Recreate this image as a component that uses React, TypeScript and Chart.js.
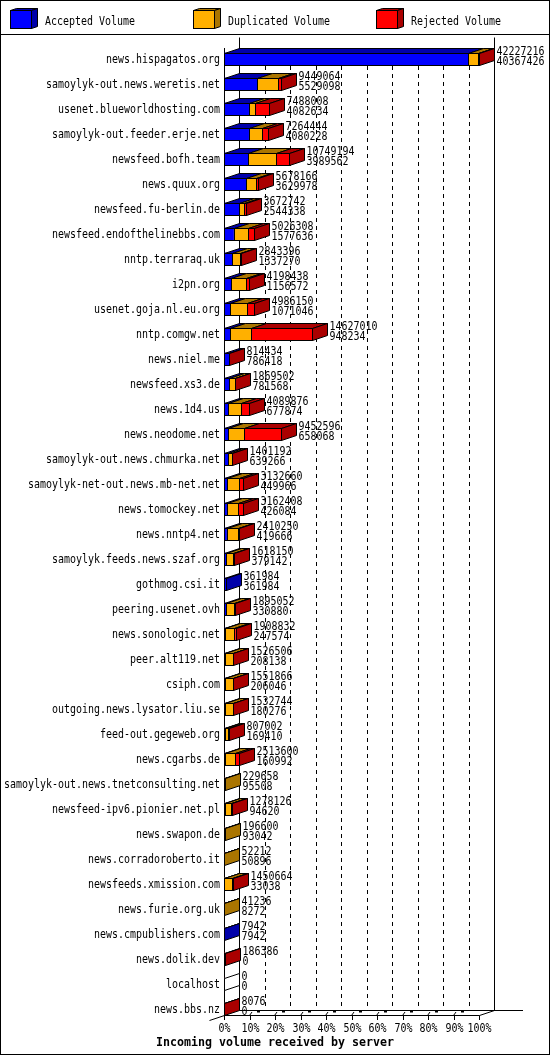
import { useEffect, useRef } from 'react';
import { Chart, registerables } from 'chart.js';

Chart.register(...registerables);

const servers = [
  'news.hispagatos.org',
  'samoylyk-out.news.weretis.net',
  'usenet.blueworldhosting.com',
  'samoylyk-out.feeder.erje.net',
  'newsfeed.bofh.team',
  'news.quux.org',
  'newsfeed.fu-berlin.de',
  'newsfeed.endofthelinebbs.com',
  'nntp.terraraq.uk',
  'i2pn.org',
  'usenet.goja.nl.eu.org',
  'nntp.comgw.net',
  'news.niel.me',
  'newsfeed.xs3.de',
  'news.1d4.us',
  'news.neodome.net',
  'samoylyk-out.news.chmurka.net',
  'samoylyk-net-out.news.mb-net.net',
  'news.tomockey.net',
  'news.nntp4.net',
  'samoylyk.feeds.news.szaf.org',
  'gothmog.csi.it',
  'peering.usenet.ovh',
  'news.sonologic.net',
  'peer.alt119.net',
  'csiph.com',
  'outgoing.news.lysator.liu.se',
  'feed-out.gegeweb.org',
  'news.cgarbs.de',
  'samoylyk-out.news.tnetconsulting.net',
  'newsfeed-ipv6.pionier.net.pl',
  'news.swapon.de',
  'news.corradoroberto.it',
  'newsfeeds.xmission.com',
  'news.furie.org.uk',
  'news.cmpublishers.com',
  'news.dolik.dev',
  'localhost',
  'news.bbs.nz',
];

// printed next to each bar: total (top line) and accepted (bottom line)
const totalVolume = [
  42227216, 9449064, 7488008, 7264444, 10749194, 5678166, 3672742, 5026308, 2843396, 4198438,
  4986150, 14627010, 814434, 1869502, 4089876, 9452596, 1401192, 3132660, 3162408, 2410250,
  1618150, 361984, 1895052, 1908832, 1526506, 1551866, 1532744, 807002, 2513600, 229658,
  1278126, 196600, 52212, 1450664, 41236, 7942, 186386, 0, 8076,
];

const acceptedVolume = [
  40367426, 5529098, 4082634, 4080228, 3989562, 3629978, 2544338, 1577636, 1337270, 1156572,
  1071046, 948234, 786418, 781568, 677874, 658068, 639266, 449966, 426084, 419666,
  379142, 361984, 330880, 247574, 208138, 206046, 180276, 169410, 160992, 95508,
  94620, 93042, 50896, 33038, 8272, 7942, 0, 0, 0,
];

// estimated from the bar segments
const duplicatedVolume = [
  1680000, 3470000, 990000, 2250000, 4580000, 1620000, 840000, 2440000, 1330000, 2430000,
  2780000, 3540000, 0, 1010000, 2160000, 2650000, 640000, 2040000, 1900000, 1900000,
  1070000, 0, 1350000, 1375000, 1290000, 1300000, 1310000, 520000, 1690000, 134150,
  1070000, 103558, 1316, 1240000, 32964, 0, 0, 0, 0,
];

const rejectedVolume = [
  179790, 449966, 2415374, 934216, 2179632, 428188, 288404, 1008672, 176126, 611866,
  1135104, 10138776, 28016, 77934, 1252002, 6144528, 121926, 642694, 836324, 90584,
  169008, 0, 214172, 286258, 28368, 45820, 42468, 117592, 662608, 0,
  113506, 0, 0, 177626, 0, 0, 186386, 0, 8076,
];

const tickLabels = ['0%', '10%', '20%', '30%', '40%', '50%', '60%', '70%', '80%', '90%', '100%'];
const seriesNames = ['Accepted Volume', 'Duplicated Volume', 'Rejected Volume'];
const axisTitle = 'Incoming volume received by server';

const frontColors = ['#0000ff', '#ffb000', '#ff0000'];
const darkColors = ['#0000aa', '#aa7500', '#aa0000'];

const DX = 15;
const DY = -5;

// gd-like narrow monospace text
function monoText(
  ctx: CanvasRenderingContext2D,
  text: string,
  x: number,
  y: number,
  align: 'left' | 'right' | 'center',
  bold = false
) {
  const size = bold ? 12 : 11.5;
  const cw = bold ? 7 : 6;
  ctx.save();
  ctx.font = `${bold ? 'bold ' : ''}${size}px "DejaVu Sans Mono"`;
  const natural = ctx.measureText(text).width || 1;
  const target = text.length * cw;
  let left = x;
  if (align === 'right') left = x - target;
  else if (align === 'center') left = x - target / 2;
  ctx.translate(left, y);
  ctx.scale(target / natural, 1);
  ctx.textAlign = 'left';
  ctx.textBaseline = 'alphabetic';
  ctx.fillStyle = '#000';
  ctx.fillText(text, 0, 0);
  ctx.restore();
}

function poly(ctx: CanvasRenderingContext2D, pts: number[][], fill: string) {
  ctx.beginPath();
  ctx.moveTo(pts[0][0], pts[0][1]);
  for (let k = 1; k < pts.length; k++) ctx.lineTo(pts[k][0], pts[k][1]);
  ctx.closePath();
  ctx.fillStyle = fill;
  ctx.fill();
  ctx.stroke();
}

function line(ctx: CanvasRenderingContext2D, x1: number, y1: number, x2: number, y2: number) {
  ctx.beginPath();
  ctx.moveTo(x1, y1);
  ctx.lineTo(x2, y2);
  ctx.stroke();
}

const maxTotal = Math.max(...totalVolume);

const boxes3d = {
  id: 'boxes3d',
  beforeDraw(chart: any) {
    const { ctx, width, height } = chart;
    ctx.save();
    ctx.fillStyle = '#ffffff';
    ctx.fillRect(0, 0, width, height);
    ctx.restore();
  },
  beforeDatasetsDraw(chart: any) {
    const { ctx } = chart;
    const xs = chart.scales.x;
    const bars = chart.getDatasetMeta(0).data;
    const first = bars[0].getProps(['y', 'height'], true);
    const last = bars[bars.length - 1].getProps(['y', 'height'], true);
    const firstTop = Math.round(first.y - first.height / 2);
    const floorFront = Math.round(last.y + last.height / 2) + 0.5;
    const floorBack = floorFront + DY;
    const gridTop = Math.round(first.y + first.height / 2) + 1;
    const px = (k: number) => Math.round(xs.getPixelForValue((maxTotal * k) / (tickLabels.length - 1)));
    const x0 = px(0) + 0.5;
    const x100 = px(tickLabels.length - 1) + 0.5;

    ctx.save();
    ctx.strokeStyle = '#000';
    ctx.lineWidth = 1;

    // back wall grid
    ctx.setLineDash([4, 4]);
    for (let k = 1; k < tickLabels.length - 1; k++) {
      line(ctx, px(k) + DX + 0.5, gridTop, px(k) + DX + 0.5, floorBack);
    }
    ctx.setLineDash([]);
    line(ctx, x0 + DX, 37.5, x0 + DX, floorBack);
    line(ctx, x100 + DX, 37.5, x100 + DX, floorBack);

    // left front edge and floor
    line(ctx, x0, firstTop + DY, x0, floorFront);
    line(ctx, x0, floorFront, x100, floorFront);
    line(ctx, x100, floorFront, x100 + DX, floorBack);
    line(ctx, x0 + DX, floorBack, 523, floorBack);
    line(ctx, x0, floorFront, x0 - DX, floorFront - DY);

    tickLabels.forEach((lab, k) => {
      const x = px(k) + 0.5;
      line(ctx, x, floorFront, x, floorFront + 4.5);
      if (k > 0 && k < tickLabels.length - 1) {
        line(ctx, x - 1, floorFront, x + 1.5, floorFront - 3.5);
        ctx.fillStyle = '#000';
        ctx.fillRect(x + 6.5, floorBack, 3, 2);
      }
      monoText(ctx, lab, x, floorFront + 16.5, 'center');
    });
    monoText(ctx, axisTitle, chart.width / 2, floorFront + 30.5, 'center', true);
    ctx.restore();
  },
  afterDatasetsDraw(chart: any) {
    const { ctx } = chart;
    const datasets = chart.data.datasets;
    const metas = datasets.map((_: any, d: number) => chart.getDatasetMeta(d));
    ctx.save();
    ctx.strokeStyle = '#000';
    ctx.lineWidth = 1;

    servers.forEach((name, i) => {
      const segs = metas.map((m: any) => m.data[i].getProps(['x', 'y', 'base', 'height'], true));
      const cy = segs[0].y;
      const h = segs[0].height;
      const T = Math.round(cy - h / 2) + 0.5;
      const B = Math.round(cy + h / 2) + 0.5;
      const edges = [segs[0].base, ...segs.map((s: any) => s.x)].map((v: number) => Math.round(v) + 0.5);
      const xe = edges[edges.length - 1];

      let sideColor = '#ffffff';
      segs.forEach((_: any, d: number) => {
        if (datasets[d].data[i] > 0) {
          const a = edges[d];
          const b = edges[d + 1];
          sideColor = darkColors[d];
          poly(ctx, [[a, T], [b, T], [b + DX, T + DY], [a + DX, T + DY]], darkColors[d]);
          if (d > 0) line(ctx, a, T, a, B);
        }
      });

      ctx.strokeRect(edges[0], T, xe - edges[0], B - T);
      poly(ctx, [[xe, T], [xe + DX, T + DY], [xe + DX, B + DY], [xe, B]], sideColor);

      monoText(ctx, name, 220, cy + 4, 'right');
      monoText(ctx, String(totalVolume[i]), xe + DX + 2, cy - 4.5, 'left');
      monoText(ctx, String(acceptedVolume[i]), xe + DX + 2, cy + 6.3, 'left');
    });
    ctx.restore();
  },
  afterDraw(chart: any) {
    const { ctx, width, height } = chart;
    ctx.save();
    ctx.strokeStyle = '#000';
    ctx.lineWidth = 1;

    // legend
    seriesNames.forEach((name, d) => {
      const l = 10.5 + d * 183;
      const r = l + 21;
      const t = 10.5;
      const b = 28.5;
      ctx.fillStyle = frontColors[d];
      ctx.fillRect(l, t, r - l, b - t);
      ctx.strokeRect(l, t, r - l, b - t);
      poly(ctx, [[l, t], [r, t], [r + 6, t - 2], [l + 6, t - 2]], darkColors[d]);
      poly(ctx, [[r, t], [r + 6, t - 2], [r + 6, b - 2], [r, b]], darkColors[d]);
      monoText(ctx, name, l + 34.5, 24.5, 'left');
    });
    line(ctx, 0, 34.5, width, 34.5);
    ctx.strokeRect(0.5, 0.5, width - 1, height - 1);
    ctx.restore();
  },
};

export default function App() {
  const canvasRef = useRef<HTMLCanvasElement>(null);
  const chartRef = useRef<Chart | null>(null);

  useEffect(() => {
    document.body.style.margin = '0';
    if (!canvasRef.current) return;
    if (chartRef.current) chartRef.current.destroy();

    const series = [acceptedVolume, duplicatedVolume, rejectedVolume];

    chartRef.current = new Chart(canvasRef.current, {
      type: 'bar',
      data: {
        labels: servers,
        datasets: series.map((values, d) => ({
          label: seriesNames[d],
          data: values,
          backgroundColor: frontColors[d],
          borderWidth: 0,
          barThickness: 12,
        })),
      },
      options: {
        indexAxis: 'y',
        responsive: false,
        animation: false,
        devicePixelRatio: 1,
        layout: { padding: { left: 224, right: 71, top: 46.5, bottom: 33.5 } },
        scales: {
          x: { type: 'linear', stacked: true, min: 0, max: maxTotal, display: false },
          y: { type: 'category', stacked: true, display: false },
        },
        plugins: {
          legend: { display: false },
          tooltip: { enabled: false },
        },
      },
      plugins: [boxes3d],
    });

    return () => {
      if (chartRef.current) {
        chartRef.current.destroy();
        chartRef.current = null;
      }
    };
  }, []);

  return <canvas ref={canvasRef} width={550} height={1055} style={{ display: 'block' }} />;
}
